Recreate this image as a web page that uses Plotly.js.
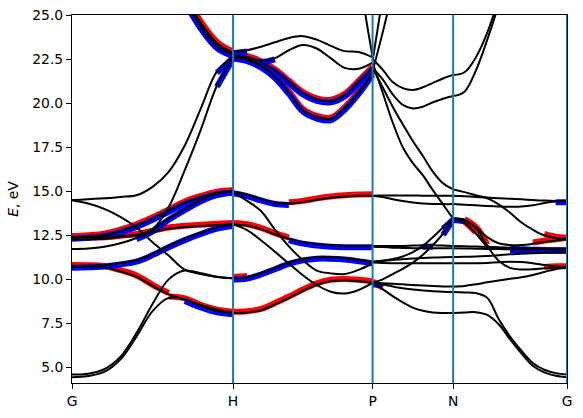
<!DOCTYPE html>
<html><head><meta charset="utf-8">
<script src="https://cdn.plot.ly/plotly-3.0.1.min.js"></script>
<style>html,body{margin:0;padding:0;background:#fff}</style>
</head><body>
<div id="chart" style="width:583px;height:418px"></div>
<script>
// high-symmetry points (k path positions) and labels
const kLabels = ['G','H','P','N','G'];
const kPoints = [0, 1, 1.866, 2.366, 3.073];

// ---- segment G-H : sample positions (fraction of segment) ----
const tGH = [0,0.1,0.2,0.3,0.4,0.5,0.6,0.7,0.8,0.9,1];
const GH_A  = [4.45,4.52,4.75,5.45,6.75,8.2,8.95,8.85,8.48,8.2,8.09];
const GH_B  = [4.6,4.65,4.9,5.6,6.95,8.6,10.0,10.5,10.35,10.15,10.06];
const GH_C  = [10.74,10.73,10.68,10.45,10.15,9.62,9.15,8.85,8.55,8.28,8.12];
const GH_D  = [10.74,10.76,10.8,10.92,11.08,11.45,11.9,12.3,12.65,12.95,13.12];
const GH_J  = [12.27,12.28,12.31,12.4,12.5,12.69,12.87,12.97,13.03,13.08,13.12];
const GH_I1 = [12.38,12.43,12.52,12.75,13.05,13.45,13.9,14.35,14.66,14.9,15.0];
const GH_I2 = [11.72,11.75,11.85,12.05,12.35,12.8,13.45,14.0,14.5,14.85,15.0];
const GH_G1 = [14.49,14.55,14.6,14.68,14.77,15.25,16.1,17.6,19.7,21.8,22.63];
const GH_G2 = [12.38,12.4,12.42,12.46,12.52,12.85,14.1,16.2,18.5,21.0,22.6];
const GH_F  = [14.49,14.3,14.0,13.55,12.95,12.1,11.35,10.55,10.3,10.13,10.06];
const GH_K1 = [null,null,null,null,null,null,27.5,25.8,24.3,23.2,22.75];
const GH_K2 = [null,null,null,null,null,null,27.8,26.1,24.55,23.4,22.85];

// ---- segment H-P ----
const tHP = [0,0.1,0.2,0.3,0.4,0.5,0.6,0.7,0.8,0.9,1];
const HP_T1 = [22.9,23.0,23.2,23.45,23.7,23.8,23.6,23.25,22.95,22.9,22.6];
const HP_T2 = [22.75,22.55,22.4,22.55,23.0,23.3,23.1,22.55,22.0,21.95,22.3];
const HP_U1 = [22.7,22.6,22.3,21.85,21.2,20.56,20.2,20.12,20.45,21.2,22.0];
const HP_U2 = [22.6,22.45,22.1,21.5,20.6,19.6,19.2,19.1,19.7,20.6,21.7];
const HP_V1 = [null,null,null,null,null,null,null,null,33,27.4,22.6];
const HP_I1 = [14.96,14.8,14.55,14.35,14.3,14.38,14.52,14.63,14.7,14.74,14.75];
const HP_I2 = [14.96,14.45,13.88,12.82,11.87,11.09,10.5,10.34,10.3,10.54,10.9];
const HP_D  = [13.12,13.05,12.85,12.55,12.3,12.1,12.0,11.93,11.9,11.9,11.9];
const HP_J  = [13.12,12.8,12.22,11.57,10.9,10.24,9.68,9.3,9.2,9.4,9.8];
const HP_B  = [10.06,10.12,10.35,10.65,10.95,11.15,11.25,11.25,11.2,11.1,10.98];
const HP_A  = [8.09,8.12,8.25,8.58,8.95,9.35,9.7,9.9,9.95,9.9,9.82];

// ---- segment P-N ----
const tPN = [0,0.125,0.25,0.375,0.5,0.625,0.75,0.875,1];
const PN_W1 = [22.4,26.0,29.5,null,null,null,null,null,null];
const PN_W2 = [21.8,24.0,26.4,29.0,null,null,null,null,null];
const PN_Z1 = [22.5,21.9,21.2,20.85,20.75,20.9,21.15,21.4,21.6];
const PN_Z2 = [22.0,21.35,20.5,19.9,19.7,19.8,20.05,20.25,20.4];
const PN_S1 = [22.3,20.6,18.9,17.5,16.6,15.9,15.05,14.25,13.45];
const PN_S2 = [22.0,20.9,19.8,18.8,17.85,17.0,16.1,15.45,15.1];
const PN_I1 = [14.75,14.76,14.76,14.76,14.76,14.75,14.75,14.74,14.74];
const PN_I1b= [14.75,14.68,14.55,14.44,14.36,14.31,14.28,14.27,14.27];
const PN_D  = [11.9,11.9,11.9,11.9,11.92,11.93,11.93,11.92,11.9];
const PN_D2 = [11.85,11.83,11.8,11.78,11.77,11.76,11.76,11.76,11.76];
const PN_R1 = [9.8,10.0,10.3,10.6,10.95,11.4,11.95,12.6,13.45];
const PN_R2 = [11.0,11.05,11.15,11.3,11.55,11.9,12.4,12.95,13.45];
const PN_R3 = [10.95,10.93,10.92,10.92,10.92,10.92,10.92,10.92,10.92];
const PN_R4 = [11.0,11.05,11.1,11.14,11.18,11.21,11.24,11.26,11.27];
const PN_Y  = [9.8,9.78,9.75,9.72,9.68,9.65,9.62,9.6,9.6];
const PN_X1 = [9.8,9.72,9.6,9.5,9.42,9.37,9.33,9.3,9.28];
const PN_X2 = [9.8,9.45,9.05,8.7,8.4,8.22,8.12,8.09,8.09];

// ---- segment N-G ----
const tNG = [0,0.1,0.2,0.3,0.4,0.5,0.6,0.7,0.8,0.9,1];
const NG_X2 = [8.09,8.12,8.14,7.98,7.45,6.6,5.8,5.1,4.72,4.53,4.45];
const NG_X1 = [9.28,9.26,9.22,8.95,7.75,6.75,5.95,5.25,4.87,4.68,4.6];
const NG_Y  = [9.6,9.63,9.72,9.83,9.93,10.03,10.12,10.25,10.42,10.58,10.67];
const NG_N1 = [13.45,13.37,12.95,12.4,12.05,11.95,11.95,12.02,12.12,12.2,12.27];
const NG_N2 = [13.45,13.35,12.9,11.9,11.06,10.65,10.56,10.57,10.63,10.67,10.67];
const NG_N3 = [13.45,13.2,12.6,11.9,11.75,11.73,11.73,11.72,11.72,11.72,11.72];
const NG_S2 = [15.1,14.95,14.77,14.6,14.25,13.78,13.23,12.82,12.5,12.35,12.3];
const NG_I1 = [14.74,14.71,14.68,14.64,14.6,14.57,14.54,14.5,14.47,14.45,14.45];
const NG_I1b= [14.27,14.24,14.2,14.16,14.13,14.12,14.13,14.2,14.33,14.42,14.45];
const NG_D  = [11.9,11.88,11.86,11.84,11.82,11.8,11.78,11.76,11.74,11.72,11.7];
const NG_D2 = [11.76,11.75,11.74,11.73,11.72,11.71,11.7,11.7,11.7,11.7,11.7];
const NG_R3 = [10.92,10.92,10.92,10.93,10.97,11.0,10.98,10.92,10.82,10.73,10.67];
const NG_R4 = [11.27,11.28,11.3,11.33,11.37,11.42,11.45,11.48,11.51,11.53,11.55];
const NG_Z1 = [21.6,21.75,22.6,24.0,25.9,28.0,null,null,null,null,null];
const NG_Z2 = [20.4,20.65,21.85,23.6,25.6,28.0,null,null,null,null,null];

// projection character per sample: r = red, b = blue, x = both, . = none
const segments = [
  {k0:kPoints[0], k1:kPoints[1], t:tGH, bands:[
    [GH_A,'......rxxxx'],[GH_B,'...........'],[GH_C,'xrrrrrr....'],[GH_D,'xbbbbbbbbbb'],
    [GH_J,'xrrrrrrrrrr'],[GH_I1,'xxxxxxxxxxx'],[GH_I2,'....bbbbbbb'],[GH_G1,'.........bb'],
    [GH_G2,'.........bb'],[GH_F,'...........'],[GH_K1,'......xxxxx'],[GH_K2,'......rrrrr']]},
  {k0:kPoints[1], k1:kPoints[2], t:tHP, bands:[
    [HP_T1,'bb.........'],[HP_T2,'.bbb.......'],[HP_U1,'xxxxxxxxxxx'],[HP_U2,'xxxxxxxxxxx'],
    [HP_V1,'...........'],[HP_I1,'bbbbxrrrrrr'],[HP_I2,'...........'],[HP_D,'rrrrxbbbbbb'],
    [HP_J,'...........'],[HP_B,'xxbbbbbbbbb'],[HP_A,'xrrrrrrrrrr']]},
  {k0:kPoints[2], k1:kPoints[3], t:tPN, bands:[
    [PN_W1,'.........'],[PN_W2,'.........'],[PN_Z1,'.........'],[PN_Z2,'.........'],
    [PN_S1,'.........'],[PN_S2,'.........'],[PN_I1,'.........'],[PN_I1b,'.........'],
    [PN_D,'.....bb..'],[PN_D2,'.........'],[PN_R1,'.......bb'],[PN_R2,'.......bb'],
    [PN_R3,'.........'],[PN_R4,'.........'],[PN_Y,'.........'],[PN_X1,'bb.......'],[PN_X2,'rr.......']]},
  {k0:kPoints[3], k1:kPoints[4], t:tNG, bands:[
    [NG_X2,'...........'],[NG_X1,'...........'],[NG_Y,'...........'],[NG_N1,'bb.....rrrr'],
    [NG_N2,'.rrr....rrr'],[NG_N3,'.rr..bbbbbb'],[NG_S2,'........rrr'],[NG_I1,'.........bb'],
    [NG_I1b,'...........'],[NG_D,'.....bbbbbb'],[NG_D2,'.......bbbb'],[NG_R3,'...........'],
    [NG_R4,'...........'],[NG_Z1,'...........'],[NG_Z2,'...........']]}
];

const yMin = 4.12, yMax = 25;
const pxPerEv = 368 / (yMax - yMin);
const shift = 1.3 / pxPerEv;

const red = [], blue = [], black = [];
segments.forEach(s => {
  const x = s.t.map(t => s.k0 + t * (s.k1 - s.k0));
  s.bands.forEach(([e, f]) => {
    black.push({x:x, y:e, type:'scatter', mode:'lines', xaxis:'x', yaxis:'y4', hoverinfo:'skip', showlegend:false,
      line:{color:'black', width:2, shape:'spline', smoothing:1}});
    [['r','#ff0000',red,'y2'],['b','#0000ff',blue,'y3']].forEach(([c,col,arr,ax]) => {
      const ye = e.map((v,i) => (f[i]===c || f[i]==='x') ? v : null);
      if (ye.filter(v => v !== null).length >= 2) {
        arr.push({x:x, y:ye, type:'scatter', mode:'lines', xaxis:'x', yaxis:ax, hoverinfo:'skip', showlegend:false,
          line:{color:col, width:6, shape:'spline', smoothing:1}});
      }
    });
  });
});
// anchor trace for the base axes (keeps the visible axis frame and ticks)
const base = {x:[kPoints[0], kPoints[4]], y:[yMin, yMax], type:'scatter', mode:'markers', xaxis:'x', yaxis:'y',
  marker:{opacity:0, size:1}, hoverinfo:'skip', showlegend:false};

const font = {family:'DejaVu Sans, sans-serif', size:13.9, color:'#000'};
const shapes = kPoints.slice(1).map(k => ({type:'line', xref:'x', yref:'paper', x0:k, x1:k, y0:0, y1:1,
  line:{color:'#1f77b4', width:2}, layer:'above'}));

const hidden = {showticklabels:false, ticks:'', showline:false, showgrid:false, zeroline:false};
const layout = {
  width:583, height:418,
  margin:{l:72, r:16, t:15, b:35},
  paper_bgcolor:'#fff', plot_bgcolor:'#fff',
  showlegend:false, font:font,
  xaxis:{range:[kPoints[0], kPoints[4]], tickvals:kPoints, ticktext:kLabels, ticks:'outside',
    ticklen:5, tickwidth:1, tickcolor:'#000', showgrid:false, zeroline:false, showline:true, mirror:true,
    linecolor:'#000', linewidth:1, tickfont:font},
  yaxis:{range:[yMin, yMax], tick0:5, dtick:2.5, tickformat:'.1f', ticks:'outside', ticklen:5, tickwidth:1,
    tickcolor:'#000', showgrid:false, zeroline:false, showline:true, mirror:true, linecolor:'#000', linewidth:1,
    tickfont:font, title:{text:'<i>E</i>, eV', font:font, standoff:10}},
  yaxis2:Object.assign({overlaying:'y', range:[yMin - shift, yMax - shift]}, hidden),
  yaxis3:Object.assign({overlaying:'y', range:[yMin + shift, yMax + shift]}, hidden),
  yaxis4:Object.assign({overlaying:'y', range:[yMin, yMax]}, hidden),
  shapes:shapes
};

Plotly.newPlot('chart', [base].concat(red, blue, black), layout, {staticPlot:true, displayModeBar:false});
</script>
</body></html>
